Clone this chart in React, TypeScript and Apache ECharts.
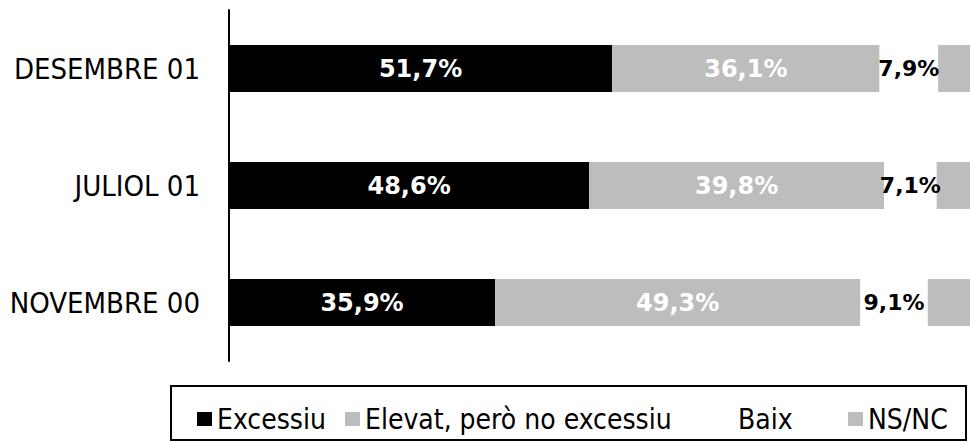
import React, { useEffect, useRef } from "react";
import * as echarts from "echarts";

const categories = ["NOVEMBRE 00", "JULIOL 01", "DESEMBRE 01"];
const excessiu = [35.9, 48.6, 51.7];
const elevat = [49.3, 39.8, 36.1];
const baix = [9.1, 7.1, 7.9];
const nsnc = [5.7, 4.5, 4.3];
const seriesNames = ["Excessiu", "Elevat, però no excessiu", "Baix", "NS/NC"];
const legendLefts = [192, 340, 713, 843];

const fmt = (v: number) => v.toFixed(1).replace(".", ",") + "%";

export default function App() {
  const ref = useRef<HTMLDivElement>(null);
  useEffect(() => {
    document.body.style.margin = "0";
    const chart = echarts.init(ref.current!, null, { renderer: "svg" });
    const grey = "#bdbdbd";
    const font = "'DejaVu Sans Condensed', 'DejaVu Sans', sans-serif";
    const boldFont = "'DejaVu Sans', Verdana, sans-serif";
    const mkLabel = (color: string, size: number) => ({
      show: true,
      position: "inside",
      color,
      fontFamily: boldFont,
      fontWeight: "bold",
      fontSize: size,
      formatter: (p: any) => fmt(p.value),
    });
    chart.setOption({
      animation: false,
      backgroundColor: "#ffffff",
      grid: { left: 229, top: 10, width: 749, height: 351 },
      xAxis: { type: "value", min: 0, max: 100, show: false },
      yAxis: {
        type: "category",
        data: categories,
        axisLine: { show: true, lineStyle: { color: "#000", width: 2 } },
        axisTick: { show: false },
        axisLabel: { color: "#000", fontFamily: font, fontSize: 29, margin: 29 },
      },
      legend: seriesNames.map((n, i) => ({
        left: legendLefts[i],
        top: 400,
        itemWidth: 15,
        itemHeight: 14,
        icon: "rect",
        selectedMode: false,
        textStyle: { color: "#000", fontFamily: font, fontSize: 28, lineHeight: 28 },
        data: [n],
      })),
      graphic: [
        {
          type: "rect",
          shape: { x: 171, y: 386, width: 795, height: 54 },
          style: { fill: "none", stroke: "#000", lineWidth: 2 },
        },
      ],
      series: [
        {
          name: seriesNames[0],
          type: "bar",
          stack: "s",
          barWidth: 47,
          data: excessiu,
          itemStyle: { color: "#000" },
          label: mkLabel("#fff", 24),
        },
        {
          name: seriesNames[1],
          type: "bar",
          stack: "s",
          barWidth: 47,
          data: elevat,
          itemStyle: { color: grey },
          label: mkLabel("#fff", 24),
        },
        {
          name: seriesNames[2],
          type: "bar",
          stack: "s",
          barWidth: 47,
          data: baix,
          itemStyle: { color: "#fff" },
          label: mkLabel("#000", 22),
        },
        {
          name: seriesNames[3],
          type: "bar",
          stack: "s",
          barWidth: 47,
          data: nsnc,
          itemStyle: { color: grey },
          label: { show: false },
        },
      ],
    });
    return () => chart.dispose();
  }, []);
  return <div ref={ref} style={{ width: 970, height: 441 }} />;
}
